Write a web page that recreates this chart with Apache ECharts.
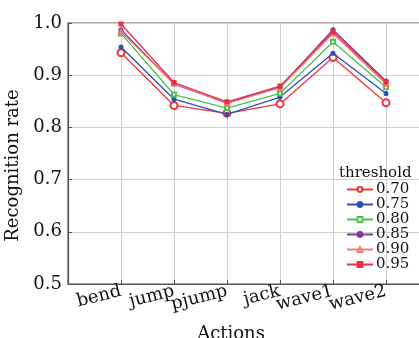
<!DOCTYPE html>
<html>
<head>
<meta charset="utf-8">
<script src="https://cdn.jsdelivr.net/npm/echarts@6/dist/echarts.min.js"></script>
<style>
  html, body { margin: 0; padding: 0; background: #fff; }
  #chart { width: 419px; height: 338px; }
</style>
</head>
<body>
<div id="chart"></div>
<script>
// Recognition rate per action for several thresholds
const actions = ['bend', 'jump', 'pjump', 'jack', 'wave1', 'wave2'];
const thresholds = ['0.70', '0.75', '0.80', '0.85', '0.90', '0.95'];
const rate070 = [0.943, 0.842, 0.827, 0.845, 0.934, 0.847];
const rate075 = [0.954, 0.854, 0.825, 0.858, 0.942, 0.865];
const rate080 = [0.980, 0.863, 0.837, 0.865, 0.964, 0.877];
const rate085 = [0.987, 0.883, 0.847, 0.877, 0.987, 0.889];
const rate090 = [0.983, 0.884, 0.846, 0.876, 0.980, 0.883];
const rate095 = [0.998, 0.886, 0.849, 0.879, 0.983, 0.887];
const yTicks = [0.5, 0.6, 0.7, 0.8, 0.9, 1.0];

const serif = '"DejaVu Serif", "Liberation Serif", serif';

// padded category list: empty slot at each end so the frame sits one step out
const cats = [''].concat(actions, ['']);
const pad = arr => [null].concat(arr, [null]);

const styles = [
  { data: rate070, color: '#f2343a', symbol: 'emptyCircle', size: 7 },
  { data: rate075, color: '#2f4fb5', symbol: 'circle', size: 4 },
  { data: rate080, color: '#4cc14c', symbol: 'emptyRect', size: 4 },
  { data: rate085, color: '#7d3a98', symbol: 'circle', size: 4 },
  { data: rate090, color: '#f2787a', symbol: 'emptyTriangle', size: 4 },
  { data: rate095, color: '#ea2f45', symbol: 'rect', size: 4 }
];

const chart = echarts.init(document.getElementById('chart'), null, { renderer: 'canvas' });

chart.setOption({
  animation: false,
  backgroundColor: '#fff',
  grid: {
    left: 68, top: 23, width: 371, height: 261,
    outerBoundsMode: 'none',
    containLabel: false,
    show: true, borderColor: '#555', borderWidth: 1.2, backgroundColor: 'transparent'
  },
  title: {
    text: 'threshold',
    left: 334, top: 161,
    textStyle: { fontFamily: serif, fontSize: 15, fontWeight: 'normal', color: '#111' }
  },
  legend: {
    orient: 'vertical',
    left: 341, top: 177,
    itemWidth: 26, itemHeight: 6, itemGap: 0,
    data: thresholds,
    textStyle: { fontFamily: serif, fontSize: 15, color: '#111', padding: [0, 0, 0, -2] }
  },
  xAxis: {
    type: 'category',
    data: cats,
    boundaryGap: false,
    name: 'Actions',
    nameLocation: 'middle',
    nameGap: 41,
    nameTextStyle: { fontFamily: serif, fontSize: 18, color: '#111', padding: [0, 45, 0, 0] },
    axisLine: { show: true, lineStyle: { color: '#555', width: 1.2 } },
    axisTick: { show: true, inside: true, length: 4, lineStyle: { color: '#555' } },
    axisLabel: {
      rotate: 14, fontFamily: serif, fontSize: 18, color: '#111', margin: 7,
      interval: 0
    },
    splitLine: { show: true, lineStyle: { color: '#cfcfcf', width: 1 } }
  },
  yAxis: {
    type: 'value',
    min: yTicks[0], max: yTicks[yTicks.length - 1], interval: 0.1,
    name: 'Recognition rate',
    nameLocation: 'middle',
    nameGap: 41,
    nameTextStyle: { fontFamily: serif, fontSize: 18, color: '#111', padding: [0, 24, 0, 0] },
    axisLine: { show: true, lineStyle: { color: '#555', width: 1.2 } },
    axisTick: { show: true, inside: true, length: 4, lineStyle: { color: '#555' } },
    axisLabel: {
      fontFamily: serif, fontSize: 18, color: '#111', margin: 6,
      formatter: v => v.toFixed(1)
    },
    splitLine: { show: true, lineStyle: { color: '#cfcfcf', width: 1 } }
  },
  series: styles.map((s, i) => ({
    name: thresholds[i],
    type: 'line',
    data: pad(s.data),
    symbol: s.symbol,
    symbolSize: s.size,
    showAllSymbol: true,
    connectNulls: false,
    color: s.color,
    lineStyle: { color: s.color, width: 1.3 },
    itemStyle: { color: s.color, borderColor: s.color, borderWidth: 1.1 },
    z: 2 + i
  }))
});
</script>
</body>
</html>
